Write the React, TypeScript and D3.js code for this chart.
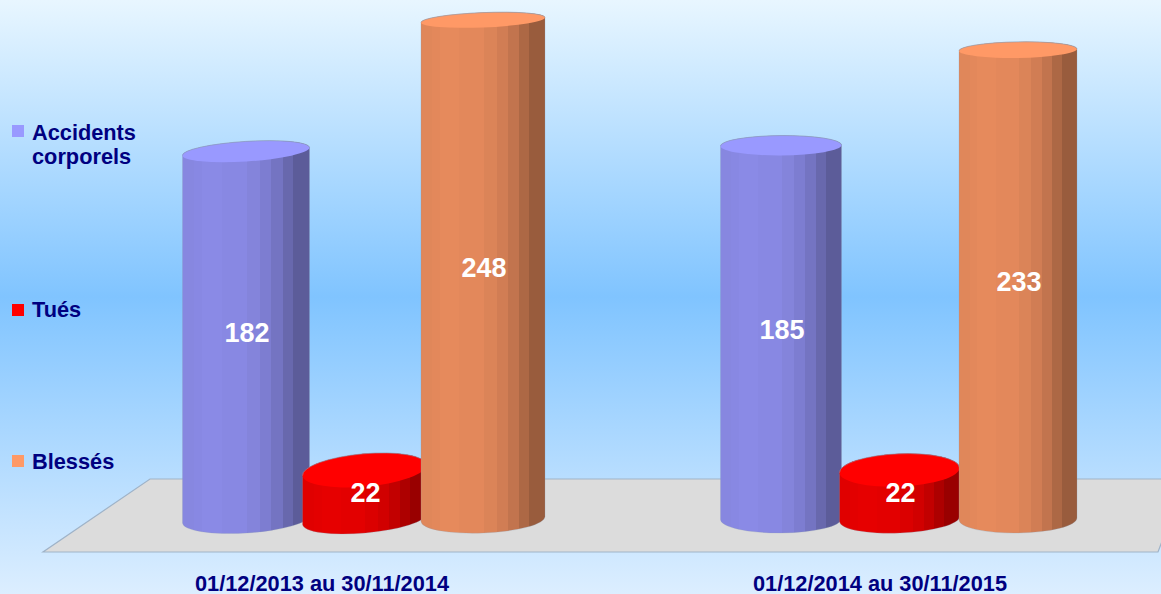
import React from "react";
import * as d3 from "d3";

const width = 1161;
const height = 594;

// data
const periods = ["01/12/2013 au 30/11/2014", "01/12/2014 au 30/11/2015"];
const series = ["Accidents corporels", "Tués", "Blessés"];
const accidents = [182, 185];
const tues = [22, 22];
const blesses = [248, 233];
const seriesValues = [accidents, tues, blesses];

const seriesColors = ["#9999ff", "#ff0000", "#ff9966"];
// left edge minus right edge of each top ellipse, per period then series
const tilts = [
  [8, 11, 5],
  [1, 5, 2],
];
const bodyWidths = [
  [127, 124, 124],
  [121, 120, 118],
];
// shading bands of the cylinder sides
const bandEnds = [0.09, 0.155, 0.31, 0.505, 0.61, 0.7, 0.79, 0.87, 1];
const bandShades = [0.88, 0.89, 0.9, 0.89, 0.86, 0.82, 0.76, 0.68, 0.6];

const y = d3.scaleLinear().domain([0, 248]).range([514, 20]);
const xPeriod = d3.scaleBand().domain(periods).range([97, 1167]);
const xSeries = d3.scaleBand().domain(series).range([-177.75, 177.75]);
const xLabel = d3.scaleBand().domain(periods).range([43, 1159]);
const topRy = d3.scaleLinear().domain([20, 470]).range([7.4, 16.4]);

const bottomRy = 14;
const bottomY = 519;

function darker(color: string, k: number) {
  const c = d3.rgb(color);
  return d3.rgb(c.r * k, c.g * k, c.b * k).formatHex();
}

function Cylinder({ id, cx, w, tilt, value, color }: any) {
  const yTop = y(value);
  const x0 = cx - w / 2;
  const x1 = cx + w / 2;
  const ry = topRy(yTop);
  const rx = Math.hypot(w, tilt) / 2;
  const angle = (Math.atan2(-tilt, w) * 180) / Math.PI;
  const d = tilt / 2;

  const side =
    `M${x0},${yTop + d} L${x0},${bottomY + d} ` +
    `A${rx},${bottomRy} ${angle} 0 0 ${x1},${bottomY - d} ` +
    `L${x1},${yTop - d} ` +
    `A${rx},${ry} ${angle} 0 0 ${x0},${yTop + d} Z`;
  const cap =
    `M${x0},${yTop + d} A${rx},${ry} ${angle} 1 1 ${x1},${yTop - d} ` +
    `A${rx},${ry} ${angle} 1 1 ${x0},${yTop + d} Z`;
  const capBack = `M${x0},${yTop + d} A${rx},${ry} ${angle} 0 1 ${x1},${yTop - d}`;

  return (
    <g>
      <defs>
        <linearGradient id={id} gradientUnits="userSpaceOnUse" x1={x0} x2={x1} y1={0} y2={0}>
          {bandEnds.map((end, i) => {
            const start = i === 0 ? 0 : bandEnds[i - 1];
            const c = darker(color, bandShades[i]);
            return (
              <React.Fragment key={i}>
                <stop offset={start} stopColor={c} />
                <stop offset={end} stopColor={c} />
              </React.Fragment>
            );
          })}
        </linearGradient>
      </defs>
      <path d={side} fill={`url(#${id})`} stroke="#8a9bb0" strokeOpacity={0.3} strokeWidth={0.8} />
      <path d={cap} fill={color} />
      <path d={capBack} fill="none" stroke="#8a9bb0" strokeOpacity={0.7} strokeWidth={0.8} />
    </g>
  );
}

export default function App() {
  const font = "'Liberation Sans', Arial, sans-serif";

  return (
    <svg width={width} height={height} style={{ position: "absolute", left: 0, top: 0 }} fontFamily={font} fontWeight="bold">
      <defs>
        <linearGradient id="bg" x1="0" x2="0" y1="0" y2="1">
          <stop offset="0" stopColor="#e8f6ff" />
          <stop offset="0.5" stopColor="#80c4ff" />
          <stop offset="1" stopColor="#dceeff" />
        </linearGradient>
      </defs>
      <rect width={width} height={height} fill="url(#bg)" />

      {/* floor */}
      <path d="M150,479 L1170,479 L1170,520 L1158,552 L43,552 Z" fill="#dcdcdc" stroke="#9fb3c8" strokeWidth={1.2} />

      {periods.map((period, p) => (
        <g key={period}>
          {series.map((s, i) => {
            const cx = (xPeriod(period) as number) + xPeriod.bandwidth() / 2 + (xSeries(s) as number) + xSeries.bandwidth() / 2;
            return (
              <Cylinder
                key={s}
                id={`cyl-${p}-${i}`}
                cx={cx}
                w={bodyWidths[p][i]}
                tilt={tilts[p][i]}
                value={seriesValues[i][p]}
                color={seriesColors[i]}
              />
            );
          })}
          {series.map((s, i) => {
            const cx = (xPeriod(period) as number) + xPeriod.bandwidth() / 2 + (xSeries(s) as number) + xSeries.bandwidth() / 2;
            const v = seriesValues[i][p];
            return (
              <text key={s} x={cx + 1} y={(y(v) + bottomY) / 2 + 7} textAnchor="middle" fontSize={27} fill="#ffffff">
                {v}
              </text>
            );
          })}
          <text
            x={(xLabel(period) as number) + xLabel.bandwidth() / 2}
            y={590.5}
            textAnchor="middle"
            fontSize={21.75}
            fill="#000080"
          >
            {period}
          </text>
        </g>
      ))}

      {/* legend */}
      <g fontSize={21.75} fill="#000080">
        <rect x={12} y={125} width={12} height={12} fill={seriesColors[0]} />
        <text x={32} y={140}>Accidents</text>
        <text x={32} y={164}>corporels</text>
        <rect x={12} y={304} width={12} height={12} fill={seriesColors[1]} />
        <text x={32} y={317}>{series[1]}</text>
        <rect x={12} y={455} width={12} height={12} fill={seriesColors[2]} />
        <text x={32} y={469}>{series[2]}</text>
      </g>
    </svg>
  );
}
